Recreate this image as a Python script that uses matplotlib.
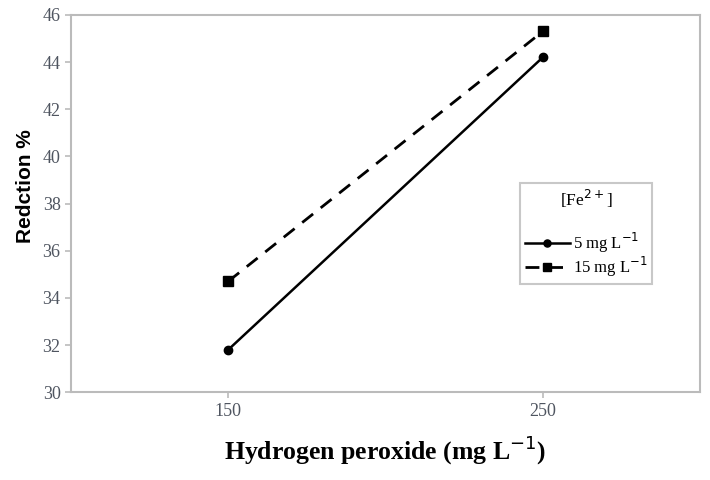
import matplotlib.pyplot as plt

h2o2 = [150, 250]
red_5 = [31.8, 44.2]
red_15 = [34.7, 45.3]
yticks = [30, 32, 34, 36, 38, 40, 42, 44, 46]

fig = plt.figure(figsize=(7.1, 4.8), dpi=100)
ax = fig.add_axes([0.1, 0.183, 0.886, 0.786])

ax.plot(h2o2, red_5, color='black', linestyle='-', linewidth=1.8, marker='o', markersize=6, label='5 mg L$^{-1}$')
ax.plot(h2o2, red_15, color='black', linestyle=(0, (5, 3.5)), linewidth=2, marker='s', markersize=7, label='15 mg L$^{-1}$')

ax.set_xlim(100, 300)
ax.set_ylim(30, 46)
ax.set_xticks(h2o2)
ax.set_yticks(yticks)
for s in ax.spines.values():
    s.set_color('#bbbbbb')
    s.set_linewidth(1.5)
ax.tick_params(colors='#bbbbbb', labelcolor='#4f5560', length=4, width=1.2)
for lab in ax.get_xticklabels() + ax.get_yticklabels():
    lab.set_fontfamily('Liberation Serif')
    lab.set_fontsize(13)

ax.set_ylabel('Redction %', fontfamily='Liberation Sans', fontweight='bold', fontsize=15)
ax.yaxis.set_label_coords(-0.058, 0.546)
ax.set_xlabel('Hydrogen peroxide (mg L$^{-1}$)', fontfamily='Liberation Serif', fontweight='bold', fontsize=18.5, labelpad=10)

leg = ax.legend(loc='upper left', bbox_to_anchor=(0.713, 0.554), title='[Fe$^{2+}$]',
                prop={'family': 'Liberation Serif', 'size': 12}, frameon=True, fancybox=False,
                edgecolor='#bbbbbb', handlelength=2.7, handletextpad=0.2, borderpad=0.3,
                borderaxespad=0, labelspacing=0.0, markerscale=0.85)
leg.get_title().set_fontfamily('Liberation Serif')
leg.get_title().set_fontsize(12.5)
leg._legend_box.sep = 15
leg.get_frame().set_linewidth(1.5)

fig.savefig('out.png', dpi=100)
